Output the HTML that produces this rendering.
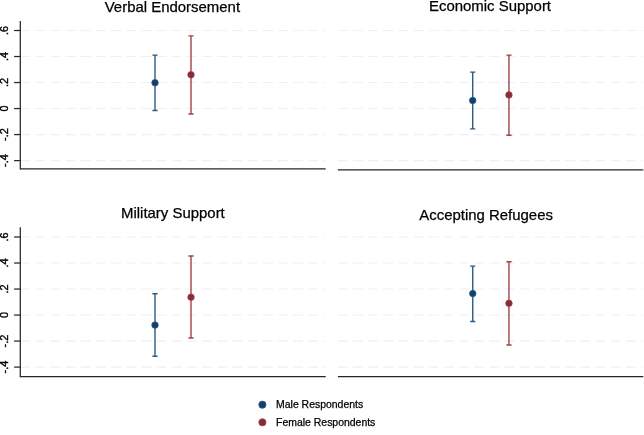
<!DOCTYPE html>
<html lang="en"><head><meta charset="utf-8"><title>Support by respondent gender</title>
<style>
html,body{margin:0;padding:0;background:#fff;}
body{width:644px;height:435px;overflow:hidden;}
svg{display:block;}
text{font-family:"Liberation Sans",Arial,Helvetica,sans-serif;fill:#000;stroke:#000;stroke-width:0.25px;}
.t{font-size:14.95px;text-anchor:middle;}
.l{font-size:10.9px;text-anchor:middle;stroke-width:0.38px;}
.g{font-size:10.45px;}
</style></head><body>
<svg width="644" height="435" viewBox="0 0 644 435">
<rect width="644" height="435" fill="#fff"/>
<g>
<line x1="20.3" x2="325.7" y1="30.50" y2="30.50" stroke="#f0f0f0" stroke-width="1.1" stroke-dasharray="9.7 5.46"/>
<line x1="20.3" x2="325.7" y1="56.52" y2="56.52" stroke="#f0f0f0" stroke-width="1.1" stroke-dasharray="9.7 5.46"/>
<line x1="20.3" x2="325.7" y1="82.54" y2="82.54" stroke="#f0f0f0" stroke-width="1.1" stroke-dasharray="9.7 5.46"/>
<line x1="20.3" x2="325.7" y1="108.56" y2="108.56" stroke="#f0f0f0" stroke-width="1.1" stroke-dasharray="9.7 5.46"/>
<line x1="20.3" x2="325.7" y1="134.58" y2="134.58" stroke="#f0f0f0" stroke-width="1.1" stroke-dasharray="9.7 5.46"/>
<line x1="20.3" x2="325.7" y1="160.60" y2="160.60" stroke="#f0f0f0" stroke-width="1.1" stroke-dasharray="9.7 5.46"/>
<line x1="20.3" x2="325.7" y1="168.8" y2="168.8" stroke="#262626" stroke-width="1.25"/>
<line x1="20.3" x2="20.3" y1="21.0" y2="169.5" stroke="#262626" stroke-width="1.25"/>
<line x1="14.1" x2="20.3" y1="30.50" y2="30.50" stroke="#262626" stroke-width="1.25"/>
<text class="l" transform="translate(8.3 30.50) rotate(-90)">.6</text>
<line x1="14.1" x2="20.3" y1="56.52" y2="56.52" stroke="#262626" stroke-width="1.25"/>
<text class="l" transform="translate(8.3 56.52) rotate(-90)">.4</text>
<line x1="14.1" x2="20.3" y1="82.54" y2="82.54" stroke="#262626" stroke-width="1.25"/>
<text class="l" transform="translate(8.3 82.54) rotate(-90)">.2</text>
<line x1="14.1" x2="20.3" y1="108.56" y2="108.56" stroke="#262626" stroke-width="1.25"/>
<text class="l" transform="translate(8.3 108.56) rotate(-90)">0</text>
<line x1="14.1" x2="20.3" y1="134.58" y2="134.58" stroke="#262626" stroke-width="1.25"/>
<text class="l" transform="translate(8.3 134.58) rotate(-90)">-.2</text>
<line x1="14.1" x2="20.3" y1="160.60" y2="160.60" stroke="#262626" stroke-width="1.25"/>
<text class="l" transform="translate(8.3 160.60) rotate(-90)">-.4</text>
<path d="M155.0 55.1V110.45M152.4 55.1H157.6M152.4 110.45H157.6" stroke="#2d5a82" stroke-width="1.4" fill="none"/>
<circle cx="155.0" cy="82.75" r="3.25" fill="#143f69" stroke="#2d5a82" stroke-width="0.8"/>
<path d="M191.0 35.9V114.05M188.4 35.9H193.6M188.4 114.05H193.6" stroke="#a1424d" stroke-width="1.4" fill="none"/>
<circle cx="191.0" cy="74.75" r="3.25" fill="#882b34" stroke="#a1424d" stroke-width="0.8"/>
<text class="t" x="172.4" y="12.4">Verbal Endorsement</text>
</g>
<g>
<line x1="337.9" x2="643.3" y1="30.50" y2="30.50" stroke="#f0f0f0" stroke-width="1.1" stroke-dasharray="9.7 5.46"/>
<line x1="337.9" x2="643.3" y1="56.52" y2="56.52" stroke="#f0f0f0" stroke-width="1.1" stroke-dasharray="9.7 5.46"/>
<line x1="337.9" x2="643.3" y1="82.54" y2="82.54" stroke="#f0f0f0" stroke-width="1.1" stroke-dasharray="9.7 5.46"/>
<line x1="337.9" x2="643.3" y1="108.56" y2="108.56" stroke="#f0f0f0" stroke-width="1.1" stroke-dasharray="9.7 5.46"/>
<line x1="337.9" x2="643.3" y1="134.58" y2="134.58" stroke="#f0f0f0" stroke-width="1.1" stroke-dasharray="9.7 5.46"/>
<line x1="337.9" x2="643.3" y1="160.60" y2="160.60" stroke="#f0f0f0" stroke-width="1.1" stroke-dasharray="9.7 5.46"/>
<line x1="337.9" x2="643.3" y1="169.8" y2="169.8" stroke="#262626" stroke-width="1.25"/>
<path d="M472.7 72.1V128.9M470.09999999999997 72.1H475.3M470.09999999999997 128.9H475.3" stroke="#2d5a82" stroke-width="1.4" fill="none"/>
<circle cx="472.7" cy="100.5" r="3.25" fill="#143f69" stroke="#2d5a82" stroke-width="0.8"/>
<path d="M508.95 55.1V135.2M506.34999999999997 55.1H511.55M506.34999999999997 135.2H511.55" stroke="#a1424d" stroke-width="1.4" fill="none"/>
<circle cx="508.95" cy="94.9" r="3.25" fill="#882b34" stroke="#a1424d" stroke-width="0.8"/>
<text class="t" x="490.0" y="11.15">Economic Support</text>
</g>
<g>
<line x1="20.3" x2="325.7" y1="237.00" y2="237.00" stroke="#f0f0f0" stroke-width="1.1" stroke-dasharray="9.7 5.46"/>
<line x1="20.3" x2="325.7" y1="263.02" y2="263.02" stroke="#f0f0f0" stroke-width="1.1" stroke-dasharray="9.7 5.46"/>
<line x1="20.3" x2="325.7" y1="289.04" y2="289.04" stroke="#f0f0f0" stroke-width="1.1" stroke-dasharray="9.7 5.46"/>
<line x1="20.3" x2="325.7" y1="315.06" y2="315.06" stroke="#f0f0f0" stroke-width="1.1" stroke-dasharray="9.7 5.46"/>
<line x1="20.3" x2="325.7" y1="341.08" y2="341.08" stroke="#f0f0f0" stroke-width="1.1" stroke-dasharray="9.7 5.46"/>
<line x1="20.3" x2="325.7" y1="367.10" y2="367.10" stroke="#f0f0f0" stroke-width="1.1" stroke-dasharray="9.7 5.46"/>
<line x1="20.3" x2="325.7" y1="376.5" y2="376.5" stroke="#262626" stroke-width="1.25"/>
<line x1="20.3" x2="20.3" y1="227.3" y2="377.2" stroke="#262626" stroke-width="1.25"/>
<line x1="14.1" x2="20.3" y1="237.00" y2="237.00" stroke="#262626" stroke-width="1.25"/>
<text class="l" transform="translate(8.3 237.00) rotate(-90)">.6</text>
<line x1="14.1" x2="20.3" y1="263.02" y2="263.02" stroke="#262626" stroke-width="1.25"/>
<text class="l" transform="translate(8.3 263.02) rotate(-90)">.4</text>
<line x1="14.1" x2="20.3" y1="289.04" y2="289.04" stroke="#262626" stroke-width="1.25"/>
<text class="l" transform="translate(8.3 289.04) rotate(-90)">.2</text>
<line x1="14.1" x2="20.3" y1="315.06" y2="315.06" stroke="#262626" stroke-width="1.25"/>
<text class="l" transform="translate(8.3 315.06) rotate(-90)">0</text>
<line x1="14.1" x2="20.3" y1="341.08" y2="341.08" stroke="#262626" stroke-width="1.25"/>
<text class="l" transform="translate(8.3 341.08) rotate(-90)">-.2</text>
<line x1="14.1" x2="20.3" y1="367.10" y2="367.10" stroke="#262626" stroke-width="1.25"/>
<text class="l" transform="translate(8.3 367.10) rotate(-90)">-.4</text>
<path d="M155.0 293.7V356.25M152.4 293.7H157.6M152.4 356.25H157.6" stroke="#2d5a82" stroke-width="1.4" fill="none"/>
<circle cx="155.0" cy="325.1" r="3.25" fill="#143f69" stroke="#2d5a82" stroke-width="0.8"/>
<path d="M191.0 256.05V338.05M188.4 256.05H193.6M188.4 338.05H193.6" stroke="#a1424d" stroke-width="1.4" fill="none"/>
<circle cx="191.0" cy="297.2" r="3.25" fill="#882b34" stroke="#a1424d" stroke-width="0.8"/>
<text class="t" x="172.9" y="217.5">Military Support</text>
</g>
<g>
<line x1="337.9" x2="643.3" y1="237.00" y2="237.00" stroke="#f0f0f0" stroke-width="1.1" stroke-dasharray="9.7 5.46"/>
<line x1="337.9" x2="643.3" y1="263.02" y2="263.02" stroke="#f0f0f0" stroke-width="1.1" stroke-dasharray="9.7 5.46"/>
<line x1="337.9" x2="643.3" y1="289.04" y2="289.04" stroke="#f0f0f0" stroke-width="1.1" stroke-dasharray="9.7 5.46"/>
<line x1="337.9" x2="643.3" y1="315.06" y2="315.06" stroke="#f0f0f0" stroke-width="1.1" stroke-dasharray="9.7 5.46"/>
<line x1="337.9" x2="643.3" y1="341.08" y2="341.08" stroke="#f0f0f0" stroke-width="1.1" stroke-dasharray="9.7 5.46"/>
<line x1="337.9" x2="643.3" y1="367.10" y2="367.10" stroke="#f0f0f0" stroke-width="1.1" stroke-dasharray="9.7 5.46"/>
<line x1="337.9" x2="643.3" y1="376.5" y2="376.5" stroke="#262626" stroke-width="1.25"/>
<path d="M472.75 266.1V321.45M470.15 266.1H475.35M470.15 321.45H475.35" stroke="#2d5a82" stroke-width="1.4" fill="none"/>
<circle cx="472.75" cy="293.6" r="3.25" fill="#143f69" stroke="#2d5a82" stroke-width="0.8"/>
<path d="M508.95 261.75V345.0M506.34999999999997 261.75H511.55M506.34999999999997 345.0H511.55" stroke="#a1424d" stroke-width="1.4" fill="none"/>
<circle cx="508.95" cy="303.3" r="3.25" fill="#882b34" stroke="#a1424d" stroke-width="0.8"/>
<text class="t" x="486.1" y="219.6">Accepting Refugees</text>
</g>
<circle cx="262.4" cy="404.7" r="3.6" fill="#143f69" stroke="#2d5a82" stroke-width="0.9"/>
<text class="g" x="276.1" y="408.1">Male Respondents</text>
<circle cx="262.4" cy="422.3" r="3.6" fill="#882b34" stroke="#a1424d" stroke-width="0.9"/>
<text class="g" x="276.1" y="426.0">Female Respondents</text>
</svg>
</body></html>
